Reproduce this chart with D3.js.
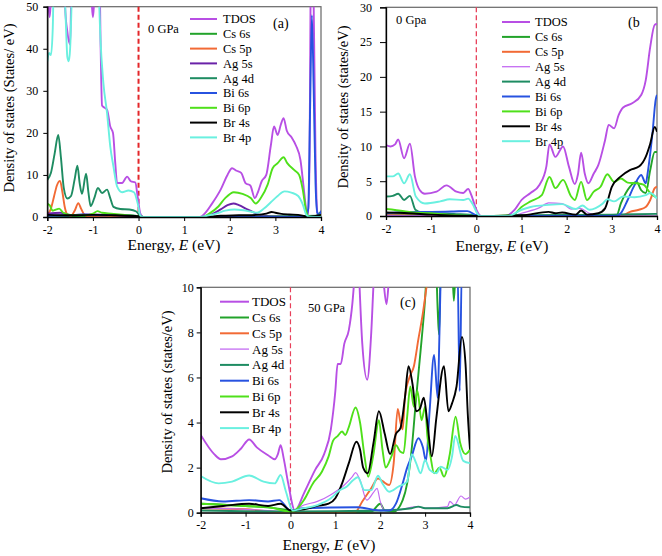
<!DOCTYPE html>
<html><head><meta charset="utf-8">
<script src="https://cdn.jsdelivr.net/npm/d3@7"></script>
<style>html,body{margin:0;padding:0;background:#fff;}svg{display:block;}</style>
</head><body>
<svg id="chart" width="662" height="556"></svg>
<script>
// ---------- shared labels ----------
const energyTicks = [-2, -1, 0, 1, 2, 3, 4];
const legendNames = ["TDOS", "Cs 6s", "Cs 5p", "Ag 5s", "Ag 4d", "Bi 6s", "Bi 6p", "Br 4s", "Br 4p"];
const yTicksA = [0, 10, 20, 30, 40, 50];
const yTicksB = [0, 5, 10, 15, 20, 25, 30];
const yTicksC = [0, 2, 4, 6, 8, 10];
const colorsA = ["#b84fe4", "#22a32a", "#f26a35", "#6a22a8", "#1e8c62", "#2752e0", "#4fe01a", "#000000", "#6af0e0"];
const colorsBC = ["#b84fe4", "#22a32a", "#f26a35", "#c46cf2", "#1e8c62", "#2752e0", "#4fe01a", "#000000", "#6af0e0"];

// ---------- panel (a) : 0 GPa ----------
const aTDOS = [[-2,60],[-1.97,50],[-1.95,47.5],[-1.93,50],[-1.9,60],[-1.64,60],[-1.61,50],[-1.56,44],[-1.5,41],[-1.48,50],[-1.46,60],[-1.05,60],[-1.02,50],[-1.0,47.5],[-0.98,50],[-0.95,60],[-0.86,60],[-0.83,40],[-0.8,26.5],[-0.75,26],[-0.69,25.5],[-0.62,21.5],[-0.56,20],[-0.51,12.8],[-0.47,8.1],[-0.36,8.1],[-0.25,9.6],[-0.17,8.5],[-0.07,8.2],[-0.02,4.9],[0.04,0.8],[0.1,0],[1.35,0],[1.45,0.8],[1.6,3],[1.8,6.5],[1.95,10],[2.05,11.6],[2.15,11],[2.25,10.5],[2.35,8],[2.45,7.5],[2.55,4.5],[2.62,6],[2.7,8.5],[2.8,10],[2.9,17],[2.97,21.5],[3.05,19.5],[3.12,22],[3.18,23.5],[3.25,20.5],[3.35,19],[3.45,17],[3.55,13.5],[3.62,7],[3.68,1.5],[3.72,0.5],[3.75,15],[3.77,50],[3.78,60],[3.82,60],[3.84,50],[3.88,15],[3.92,1],[3.96,0.5],[4,1]];
const aCs6s = [[-2,0.3],[-1,0.2],[0,0.1],[0.1,0],[3.7,0],[3.9,0.3],[4,1.2]];
const aCs5p = [[-2,0.5],[-1.92,2],[-1.85,5],[-1.79,7.5],[-1.72,8.6],[-1.67,6],[-1.62,2.5],[-1.56,0.6],[-1.48,0.3],[-1.4,1.5],[-1.32,3.3],[-1.26,2],[-1.19,0.6],[-1.1,0.2],[-0.8,0.1],[0,0],[4,0]];
const aAg5s = [[-2,0.8],[-1.7,1],[-1.5,0.5],[-1,0.6],[-0.5,0.4],[0,0.1],[0.1,0],[1.4,0],[1.6,0.6],[1.8,1.8],[1.95,2.8],[2.08,3.2],[2.2,2.8],[2.35,2],[2.5,1.2],[2.65,0.5],[2.9,0.2],[3.6,0.1],[3.7,0],[4,0]];
const aAg4d = [[-2,8.8],[-1.92,10.5],[-1.84,15],[-1.76,19.5],[-1.7,14],[-1.64,7],[-1.56,4.4],[-1.48,5],[-1.4,9],[-1.34,12.2],[-1.29,8],[-1.24,5.5],[-1.15,10.3],[-1.1,6],[-1.05,2.6],[-0.97,4.5],[-0.89,6.9],[-0.8,5.7],[-0.69,6.5],[-0.62,4.5],[-0.55,2.4],[-0.4,1.9],[-0.2,1.8],[-0.05,1.3],[0.05,0.2],[0.1,0],[1.4,0],[4,0.3]];
const aBi6s = [[-2,0.3],[-1.5,0.4],[-1.2,0.6],[-0.8,0.4],[-0.4,0.5],[0,0.2],[0.1,0],[1.4,0],[3.66,0],[3.72,2],[3.76,25],[3.8,48],[3.84,30],[3.88,8],[3.92,1],[3.97,0.5],[4,1.5]];
const aBi6p = [[-2,3.2],[-1.95,2.8],[-1.88,1.5],[-1.8,1.8],[-1.74,2],[-1.65,1],[-1.5,0.5],[-1.2,0.4],[-1.0,0.8],[-0.9,1.4],[-0.8,1.0],[-0.6,0.8],[-0.3,0.5],[0,0.2],[0.1,0],[1.4,0],[1.55,0.8],[1.75,2.5],[1.9,4.5],[2.09,5.9],[2.28,5.5],[2.46,4.5],[2.57,3.2],[2.68,4.5],[2.83,7.7],[2.94,11.6],[3.05,12.8],[3.18,14.2],[3.26,12.8],[3.41,11.2],[3.52,10],[3.6,6.5],[3.67,1.7],[3.72,0.2],[3.8,0],[4,0.5]];
const aBr4s = [[-2,0.5],[-1.5,0.4],[-1,0.5],[-0.5,0.4],[0,0.2],[0.1,0],[1.4,0],[1.8,0.3],[2.2,0.4],[2.6,0.5],[2.8,0.8],[2.92,1.2],[3.0,1.0],[3.1,0.8],[3.3,0.6],[3.5,0.5],[3.65,0.2],[3.72,0],[3.85,0.2],[4,0.5]];
const aBr4p = [[-2,37],[-1.96,39],[-1.92,38.5],[-1.88,45],[-1.85,60],[-1.66,60],[-1.6,48],[-1.56,38],[-1.53,37],[-1.5,40],[-1.47,50],[-1.45,60],[-0.9,60],[-0.86,50],[-0.84,43.7],[-0.77,31.8],[-0.69,24.7],[-0.62,16.8],[-0.55,12],[-0.47,7.3],[-0.36,5.9],[-0.22,6.3],[-0.1,5.9],[-0.02,3.3],[0.04,0.3],[0.1,0],[1.35,0],[1.5,0.3],[1.7,0.8],[1.9,1.5],[2.1,1.8],[2.3,1.6],[2.45,1.3],[2.6,1],[2.75,2],[2.9,3.5],[3.05,5],[3.2,6.1],[3.35,5.8],[3.5,5],[3.6,3],[3.68,0.5],[3.75,0],[4,0]];

// ---------- panel (b) : 0 Gpa ----------
const bTDOS = [[-2,10.2],[-1.9,10],[-1.8,10.3],[-1.73,11],[-1.6,8.3],[-1.47,10.4],[-1.36,5.7],[-1.25,3.7],[-1.14,3.2],[-0.88,3.5],[-0.66,4.4],[-0.44,3.5],[-0.29,3.3],[-0.18,3.9],[-0.11,3],[0,0.9],[0.1,0],[0.65,0],[0.85,0.9],[1.0,2.3],[1.2,3.3],[1.4,4.5],[1.55,7.1],[1.62,10.3],[1.75,8.5],[1.92,10],[2.05,7.1],[2.18,4.6],[2.25,6],[2.32,9.1],[2.4,6.1],[2.48,4.7],[2.6,6.1],[2.7,7.3],[2.85,10.9],[2.93,13.1],[3.05,12.6],[3.15,14.5],[3.25,15.6],[3.45,16.2],[3.65,17.4],[3.75,19.5],[3.85,24.3],[3.95,27.5],[4,27.6]];
const bCs6s = [[-2,0.2],[-1,0.1],[0,0],[3.1,0],[3.2,1.8],[3.4,4.2],[3.55,4.9],[3.65,3.7],[3.75,3.3],[3.85,6.6],[3.95,9.2],[4,9.2]];
const bCs5p = [[-2,0.1],[0,0],[3.2,0],[3.4,0.6],[3.6,0.9],[3.75,1.3],[3.85,2.3],[3.95,4],[4,4.2]];
const bAg5s = [[-2,0.1],[0,0],[0.8,0],[1.0,0.4],[1.4,1.2],[1.6,1.9],[1.9,1.8],[2.1,1],[2.3,1.1],[2.5,0.4],[2.8,0.1],[4,0]];
const bAg4d = [[-2,2.8],[-1.85,2.9],[-1.73,3.2],[-1.6,2.3],[-1.47,2.9],[-1.35,0.9],[-1.2,0.5],[-0.5,0.3],[0,0.1],[0.1,0],[1,0.1],[3,0.2],[4,0.3]];
const bBi6s = [[-2,0.4],[-1.5,0.6],[-1,0.6],[-0.5,0.65],[-0.2,0.7],[0,0.1],[0.1,0],[3.1,0],[3.2,0.4],[3.35,2.3],[3.5,4.4],[3.65,5.9],[3.75,4.7],[3.8,6.5],[3.9,11.9],[3.97,16.7],[4,17.4]];
const bBi6p = [[-2,1],[-1.6,0.7],[-1.4,0.5],[-1,0.4],[-0.5,0.1],[0,0],[0.8,0.1],[1.0,1.3],[1.2,2.1],[1.45,3],[1.62,5.6],[1.75,4],[1.92,5.2],[2.1,2.8],[2.18,2.3],[2.32,4.9],[2.45,2.3],[2.6,3.5],[2.75,4.2],[2.9,6],[3.05,4.9],[3.2,5.4],[3.35,4.8],[3.55,4.7],[3.7,4.5],[3.85,3.3],[4,2.6]];
const bBr4s = [[-2,0.5],[-1.5,0.4],[-1,0.2],[0,0],[1.0,0.1],[1.6,0.6],[1.75,0.4],[1.9,0.5],[2.2,0.2],[2.32,0.8],[2.45,0.2],[2.7,0.4],[2.85,1.1],[3.0,4.2],[3.2,5.7],[3.4,6.6],[3.6,7.1],[3.75,8.5],[3.85,10.4],[3.95,12.8],[4,12.1]];
const bBr4p = [[-2,5.7],[-1.85,5.7],[-1.73,6.1],[-1.6,4.7],[-1.47,6],[-1.34,2.8],[-1.14,1.8],[-0.8,2.1],[-0.59,2.4],[-0.29,2.3],[-0.18,2.5],[-0.09,1.8],[0.04,0.2],[0.1,0],[0.7,0],[1.0,0.9],[1.2,1.3],[1.6,1.6],[1.9,1.7],[2.2,1],[2.35,1.5],[2.5,0.9],[2.8,1.8],[2.9,2.4],[3.05,2.1],[3.25,2.8],[3.5,2.7],[3.75,3],[3.85,3.3],[4,2.5]];

// ---------- panel (c) : 50 GPa ----------
const cTDOS = [[-2,3.45],[-1.7,2.6],[-1.55,2.37],[-1.3,2.5],[-1.1,2.85],[-0.92,3.25],[-0.75,2.9],[-0.5,2.55],[-0.35,2.37],[-0.28,2.6],[-0.22,3.0],[-0.15,2.4],[-0.05,1.3],[0.1,0.1],[0.3,0.86],[0.55,1.9],[0.75,2.6],[0.9,3.7],[1.0,5.4],[1.05,6.6],[1.12,6.6],[1.2,7.5],[1.3,8.1],[1.38,9.3],[1.43,10.5],[1.5,12],[1.53,10.5],[1.6,7.5],[1.71,5.9],[1.8,8],[1.86,10.5],[1.95,12],[2.06,10.5],[2.14,9.25],[2.2,10.5],[2.3,12],[4,12]];
const cCs6s = [[-2,0.4],[-1,0.3],[0,0.1],[0.1,0],[1.8,0.05],[2.0,0.4],[2.1,0.1],[2.3,0.05],[2.5,0.56],[2.6,1.3],[2.7,2.8],[2.8,5.1],[2.9,7.2],[3.0,9.5],[3.05,11],[3.24,11],[3.28,9],[3.31,7.9],[3.35,11],[3.6,11],[3.64,9.4],[3.69,11],[4,11]];
const cCs5p = [[-2,0.2],[-1,0.15],[0,0],[1.45,0.05],[1.6,0.5],[1.8,1.08],[1.95,1.52],[2.05,1.4],[2.2,1.23],[2.3,2.2],[2.39,4.6],[2.45,4],[2.5,3.7],[2.55,5.1],[2.65,6],[2.75,6.5],[2.85,7.7],[2.95,8.85],[3.03,10],[3.1,11],[4,11]];
const cAg5s = [[-2,0.2],[-1,0.15],[0,0.05],[0.3,0.34],[0.6,0.5],[0.9,0.8],[1.2,1.23],[1.38,1.6],[1.45,1.78],[1.55,1.45],[1.7,0.56],[1.85,0.9],[1.93,1.08],[2.0,0.5],[2.1,0.1],[2.4,0.12],[2.8,0.27],[3.0,0.2],[3.5,0.27],[3.55,0.5],[3.65,0.34],[3.8,0.74],[3.9,0.6],[4,0.7]];
const cAg4d = [[-2,0.1],[0,0.05],[2.0,0.1],[2.7,0.2],[2.85,0.27],[3.0,0.2],[3.5,0.2],[3.7,0.34],[3.8,0.27],[4,0.24]];
const cBi6s = [[-2,0.64],[-1.5,0.5],[-0.92,0.56],[-0.5,0.5],[-0.25,0.56],[0,0.1],[0.3,0.2],[1.5,0.24],[2.0,0.1],[2.2,0.1],[2.35,0.4],[2.5,1.3],[2.6,2.0],[2.7,2.5],[2.85,3.3],[2.95,2.9],[3.02,2.3],[3.1,4.5],[3.2,7.0],[3.28,5.1],[3.32,8],[3.36,11],[3.72,11],[3.77,5.4],[3.82,11],[4,11]];
const cBi6p = [[-2,0.4],[-1,0.3],[-0.5,0.25],[0,0.05],[0.1,0.1],[0.3,0.56],[0.5,1.3],[0.7,1.82],[0.85,2.5],[0.95,3.2],[1.05,3.4],[1.15,3.6],[1.22,3.45],[1.3,3.8],[1.45,4.67],[1.55,4],[1.65,2.5],[1.73,1.6],[1.85,2.6],[1.97,4.1],[2.05,2.8],[2.12,2.0],[2.25,2.5],[2.35,3.0],[2.45,2.7],[2.52,2.65],[2.6,4.26],[2.67,5.6],[2.75,4.7],[2.83,5.4],[2.92,4.1],[3.0,4.7],[3.05,3.4],[3.12,2.5],[3.2,1.75],[3.32,2.0],[3.42,1.6],[3.55,2.6],[3.68,4.26],[3.78,3.1],[3.9,2.6],[4,2.8]];
const cBr4s = [[-2,0.2],[-1.5,0.3],[-0.92,0.4],[-0.5,0.3],[-0.22,0.4],[0,0.1],[0.3,0.15],[0.6,0.3],[0.85,0.4],[1.0,0.64],[1.15,1.3],[1.3,2.2],[1.47,3.15],[1.55,2.8],[1.62,2.0],[1.72,1.75],[1.85,3.1],[1.97,4.5],[2.1,3.5],[2.22,2.6],[2.35,3.5],[2.45,3.75],[2.55,5.1],[2.63,6.5],[2.72,5.7],[2.8,4.5],[2.88,4.6],[2.97,5.1],[3.05,4.0],[3.15,2.5],[3.25,4.2],[3.42,6.5],[3.52,4.5],[3.6,4.85],[3.7,5.6],[3.82,7.8],[3.9,6.6],[3.95,4.4],[4,2.8]];
const cBr4p = [[-2,1.63],[-1.6,1.3],[-1.3,1.38],[-0.92,1.65],[-0.6,1.38],[-0.35,1.3],[-0.22,1.67],[-0.1,0.93],[0.05,0.1],[0.3,0.2],[0.6,0.34],[0.9,0.64],[1.1,1.0],[1.25,1.15],[1.4,1.45],[1.5,1.57],[1.65,1.0],[1.8,1.0],[1.95,1.64],[2.05,1.3],[2.2,0.93],[2.4,1.15],[2.6,1.38],[2.7,2.6],[2.8,2.2],[2.9,1.75],[3.0,2.34],[3.1,1.9],[3.25,1.75],[3.35,2.04],[3.5,1.9],[3.6,2.5],[3.67,3.4],[3.85,2.3],[4,2.2]];

// ---------- panel definitions ----------
const serif = "'Liberation Serif','Times New Roman',Times,serif";
const panels = [
  { key: "a", x0: 47.3, x1: 321, y0: 217, y1: 6.7, ymax: 50, yTicks: yTicksA,
    series: [aTDOS, aCs6s, aCs5p, aAg5s, aAg4d, aBi6s, aBi6p, aBr4s, aBr4p], colors: colorsA,
    ytitle: "Density of states (States/ eV)", ytX: 14, ytY: 108, xtX: 174, xtY: 250,
    ytPad: 5, ytSize: 4,
    legX0: 190, legX1: 217, legText: 223, legY0: 19, legDy: 14.8, legFont: 12.5,
    press: "0 GPa", pX: 148, pY: 29, lab: "(a)", lX: 273, lY: 23, dashW: 2, dashC: "#e3262a" },
  { key: "b", x0: 386, x1: 657, y0: 216, y1: 7.3, ymax: 30, yTicks: yTicksB,
    series: [bTDOS, bCs6s, bCs5p, bAg5s, bAg4d, bBi6s, bBi6p, bBr4s, bBr4p], colors: colorsBC,
    ytitle: "Density of states (states/eV)", ytX: 348, ytY: 107, xtX: 502, xtY: 251,
    ytPad: 8, ytSize: 6,
    legX0: 502, legX1: 530, legText: 535, legY0: 22, legDy: 14.9, legFont: 12.5,
    press: "0 Gpa", pX: 396, pY: 20, lab: "(b", lX: 628, lY: 22, dashW: 1.3, dashC: "#e8405a" },
  { key: "c", x0: 200.7, x1: 470, y0: 512.7, y1: 287.3, ymax: 10, yTicks: yTicksC,
    series: [cTDOS, cCs6s, cCs5p, cAg5s, cAg4d, cBi6s, cBi6p, cBr4s, cBr4p], colors: colorsBC,
    ytitle: "Density of states (states/eV)", ytX: 171.5, ytY: 392, xtX: 329, xtY: 550,
    ytPad: 3, ytSize: 4,
    legX0: 220, legX1: 249, legText: 252, legY0: 301.7, legDy: 15.8, legFont: 13,
    press: "50 GPa", pX: 308, pY: 308, lab: "(c)", lX: 400, lY: 302, dashW: 1.2, dashC: "#e8405a" }
];

const svg = d3.select("#chart");

panels.forEach(p => {
  const x = d3.scaleLinear().domain([-2, 4]).range([p.x0, p.x1]);
  const y = d3.scaleLinear().domain([0, p.ymax]).range([p.y0, p.y1]);
  const g = svg.append("g");

  const clipId = "clip-" + p.key;
  svg.append("clipPath").attr("id", clipId).append("rect")
    .attr("x", p.x0).attr("y", p.y1).attr("width", p.x1 - p.x0).attr("height", p.y0 - p.y1);

  // frame
  g.append("rect").attr("x", p.x0).attr("y", p.y1).attr("width", p.x1 - p.x0).attr("height", p.y0 - p.y1)
    .attr("fill", "none").attr("stroke", "#666").attr("stroke-width", 1.2);

  // dashed Fermi line
  g.append("line").attr("x1", x(0)).attr("x2", x(0)).attr("y1", p.y1).attr("y2", p.y0)
    .attr("stroke", p.dashC).attr("stroke-width", p.dashW).attr("stroke-dasharray", "5,3");

  // curves
  const line = d3.line().x(d => x(d[0])).y(d => y(d[1])).curve(d3.curveMonotoneX);
  const lg = g.append("g").attr("clip-path", `url(#${clipId})`);
  p.series.forEach((s, i) => {
    lg.append("path").datum(s).attr("d", line).attr("fill", "none")
      .attr("stroke", p.colors[i])
      .attr("stroke-width", (i === 3 && p.key !== "a") ? 1.2 : 1.9)
      .attr("stroke-linejoin", "round");
  });

  // axes
  const xa = g.append("g").attr("transform", `translate(0,${p.y0})`)
    .call(d3.axisBottom(x).tickValues(energyTicks).tickSize(4).tickPadding(4).tickFormat(d3.format("d")));
  const ya = g.append("g").attr("transform", `translate(${p.x0},0)`)
    .call(d3.axisLeft(y).tickValues(p.yTicks).tickSize(p.ytSize).tickPadding(p.ytPad).tickFormat(d3.format("d")));
  [xa, ya].forEach(a => {
    a.select(".domain").attr("stroke", "#000").attr("stroke-width", 1.3);
    a.selectAll(".tick line").attr("stroke", "#000");
    a.selectAll("text").attr("font-family", serif).attr("font-size", 12).attr("fill", "#000")
      .text(function() { return d3.select(this).text().replace("−", "-"); });
  });

  // axis titles
  g.append("text").attr("transform", `translate(${p.ytX},${p.ytY}) rotate(-90)`)
    .attr("text-anchor", "middle").attr("font-family", serif).attr("font-size", 14.5).text(p.ytitle);
  const xt = g.append("text").attr("x", p.xtX).attr("y", p.xtY).attr("text-anchor", "middle")
    .attr("font-family", serif).attr("font-size", 15.5);
  xt.append("tspan").text("Energy, ");
  xt.append("tspan").attr("font-style", "italic").text("E");
  xt.append("tspan").text(" (eV)");

  // legend
  legendNames.forEach((name, i) => {
    const ly = p.legY0 + i * p.legDy;
    g.append("line").attr("x1", p.legX0).attr("x2", p.legX1).attr("y1", ly).attr("y2", ly)
      .attr("stroke", p.colors[i]).attr("stroke-width", (i === 3 && p.key !== "a") ? 1.3 : 2);
    g.append("text").attr("x", p.legText).attr("y", ly).attr("dy", "0.35em")
      .attr("font-family", serif).attr("font-size", p.legFont).text(name);
  });

  // annotations
  g.append("text").attr("x", p.pX).attr("y", p.pY).attr("dy", "0.35em")
    .attr("font-family", serif).attr("font-size", 12.5).text(p.press);
  g.append("text").attr("x", p.lX).attr("y", p.lY).attr("dy", "0.35em")
    .attr("font-family", serif).attr("font-size", 14).text(p.lab);
});
</script>
</body></html>
